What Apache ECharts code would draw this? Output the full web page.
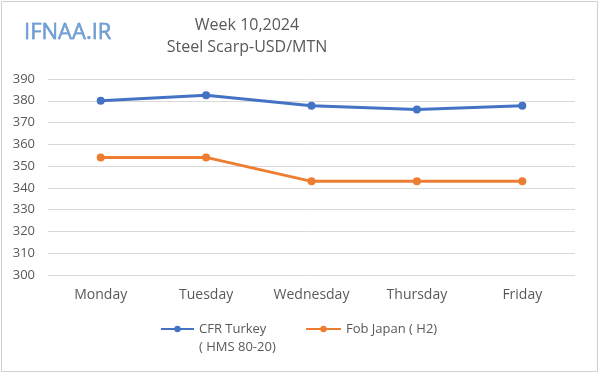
<!DOCTYPE html>
<html><head><meta charset="utf-8">
<script src="https://cdn.jsdelivr.net/npm/echarts@6/dist/echarts.min.js"></script>
<style>html,body{margin:0;padding:0;background:#fff}#c{width:600px;height:375px;}</style>
</head><body><div id="c"></div>
<script>
const categories = ['Monday','Tuesday','Wednesday','Thursday','Friday'];
const cfrTurkey = [380, 382.5, 377.7, 376, 377.7];
const fobJapan = [354, 354, 343, 343, 343];
const seriesNames = ['CFR Turkey\n( HMS 80-20)', 'Fob Japan ( H2)'];
const titleLines = ['Week 10,2024', 'Steel Scarp-USD/MTN'];
const logoText = 'IFNAA.IR';

const chart = echarts.init(document.getElementById('c'));
const font = '"Open Sans", sans-serif';
const grey = '#595959';
chart.setOption({
  animation: false,
  graphic: [
    {type:'rect', shape:{x:1.5,y:1.5,width:596,height:370}, style:{fill:'none', stroke:'#d0d0d0', lineWidth:1}},
    {type:'text', x:24, y:33, style:{text:logoText, font:'22px "Open Sans", sans-serif', fill:'#6e9fd6', textVerticalAlign:'middle', stroke:'#3f6fa8', lineWidth:0.4, shadowColor:'rgba(0,0,0,0.3)', shadowOffsetX:1, shadowOffsetY:1, shadowBlur:1}},
    {type:'text', x:247, y:25, style:{text:titleLines[0], font:'16px "Open Sans", sans-serif', fill:grey, textAlign:'center', textVerticalAlign:'middle'}},
    {type:'text', x:247, y:47, style:{text:titleLines[1], font:'16px "Open Sans", sans-serif', fill:grey, textAlign:'center', textVerticalAlign:'middle'}}
  ],
  legend: [
    {left: 155, top: 297, itemWidth: 33, itemHeight: 8, data: [seriesNames[0]],
     formatter: n => '\n' + n,
     textStyle: {fontSize: 13, color: grey, fontFamily: font, lineHeight: 18}},
    {left: 300, top: 315, itemWidth: 35, itemHeight: 8, data: [seriesNames[1]],
     textStyle: {fontSize: 13, color: grey, fontFamily: font, lineHeight: 18}}
  ],
  grid: {left: 48, right: 25, top: 79, bottom: 100},
  xAxis: {
    type: 'category', data: categories, boundaryGap: true,
    axisLine: {show: false}, axisTick: {show: false},
    axisLabel: {fontSize: 14, color: grey, fontFamily: font, margin: 13}
  },
  yAxis: {
    type: 'value', min: 300, max: 390, interval: 10,
    axisLine: {show: false}, axisTick: {show: false},
    axisLabel: {fontSize: 13, color: grey, fontFamily: font, margin: 13},
    splitLine: {lineStyle: {color: '#d9d9d9', width: 1}}
  },
  series: [
    {name: seriesNames[0], type: 'line', data: cfrTurkey, symbol: 'circle', symbolSize: 8,
     lineStyle: {color: '#4472c4', width: 3}, itemStyle: {color: '#4472c4'}},
    {name: seriesNames[1], type: 'line', data: fobJapan, symbol: 'circle', symbolSize: 8,
     lineStyle: {color: '#ed7d31', width: 3}, itemStyle: {color: '#ed7d31'}}
  ]
});
</script></body></html>
